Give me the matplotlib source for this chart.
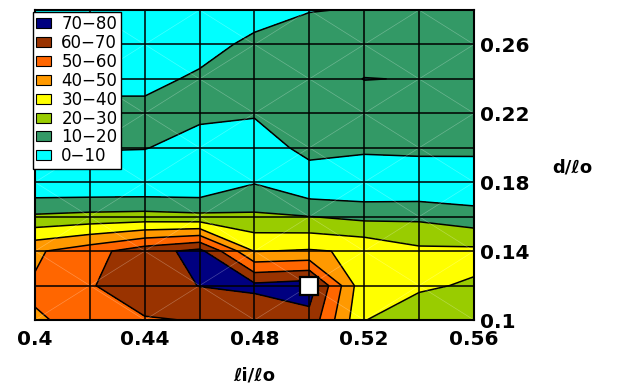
import matplotlib
matplotlib.use("Agg")
import matplotlib.pyplot as plt
from matplotlib.patches import Patch

# grid coordinates
x_vals = [0.40, 0.42, 0.44, 0.46, 0.48, 0.50, 0.52, 0.54, 0.56]
y_vals = [0.10, 0.12, 0.14, 0.16, 0.18, 0.20, 0.22, 0.24, 0.26, 0.28]

# surface values, one list per y row (bottom to top)
z_010 = [49.4, 51.6, 59.5, 60.3, 62.0, 66.8, 30.2, 26.0, 25.0]
z_012 = [51.0, 59.5, 64.0, 70.3, 72.4, 75.0, 32.3, 31.0, 29.2]
z_014 = [48.5, 56.0, 66.0, 73.0, 39.6, 41.0, 38.5, 32.1, 32.3]
z_016 = [21.5, 23.0, 23.7, 22.4, 21.6, 20.2, 17.4, 17.9, 13.9]
z_018 = [0.5, 0.0, 0.0, 0.0, 9.4, 0.4, 0.2, 0.0, 1.4]
z_020 = [10.5, 11.0, 10.5, 5.0, 0.4, 15.4, 12.3, 13.3, 12.9]
z_022 = [12.0, 13.0, 13.0, 12.4, 11.6, 15.0, 15.0, 15.0, 15.0]
z_024 = [6.0, 7.0, 7.0, 11.7, 14.0, 15.0, 9.8, 10.3, 14.0]
z_026 = [4.0, 4.0, 5.0, 6.0, 12.5, 19.0, 15.0, 15.0, 15.0]
z_028 = [4.0, 4.0, 4.0, 4.0, 5.4, 9.3, 11.0, 14.0, 15.0]
z_rows = [z_010, z_012, z_014, z_016, z_018, z_020, z_022, z_024, z_026, z_028]

levels = [0, 10, 20, 30, 40, 50, 60, 70, 80]
band_labels = ["0\u221210", "10\u221220", "20\u221230", "30\u221240",
               "40\u221250", "50\u221260", "60\u221270", "70\u221280"]
band_colors = ["#00FFFF", "#339966", "#99CC00", "#FFFF00",
               "#FF9900", "#FF6600", "#993300", "#000080"]

x_ticks = [0.40, 0.44, 0.48, 0.52, 0.56]
x_tick_labels = ["0.4", "0.44", "0.48", "0.52", "0.56"]
y_ticks = [0.10, 0.14, 0.18, 0.22, 0.26]
y_tick_labels = ["0.1", "0.14", "0.18", "0.22", "0.26"]

best_x = 0.50
best_y = 0.12

fig = plt.figure(figsize=(6.2, 3.85), dpi=100)
fig.patch.set_facecolor("white")
ax = fig.add_axes([35 / 620, 65 / 385, 439 / 620, 310 / 385])

ax.contourf(x_vals, y_vals, z_rows, levels=levels, colors=band_colors, zorder=1)
ax.contour(x_vals, y_vals, z_rows, levels=levels[1:-1], colors="black",
           linewidths=1.1, zorder=2)

# faint surface mesh diagonals
for i in range(len(x_vals) - 1):
    for j in range(len(y_vals) - 1):
        if (i + j) % 2:
            xs, ys = [x_vals[i], x_vals[i + 1]], [y_vals[j + 1], y_vals[j]]
        else:
            xs, ys = [x_vals[i], x_vals[i + 1]], [y_vals[j], y_vals[j + 1]]
        ax.plot(xs, ys, color="white", lw=0.5, alpha=0.28, zorder=2.2)

ax.set_xlim(x_vals[0], x_vals[-1])
ax.set_ylim(y_vals[0], y_vals[-1])
ax.set_xticks(x_ticks)
ax.set_xticklabels(x_tick_labels)
ax.set_xticks(x_vals, minor=True)
ax.set_yticks(y_ticks)
ax.set_yticklabels(y_tick_labels)
ax.set_yticks(y_vals, minor=True)
ax.yaxis.tick_right()
ax.tick_params(which="both", length=0)
ax.tick_params(axis="x", pad=7.5)
ax.tick_params(axis="y", pad=4)
for lab in ax.get_xticklabels() + ax.get_yticklabels():
    lab.set_fontfamily("DejaVu Sans")
    lab.set_fontweight("bold")
    lab.set_fontsize(14.5)
ax.set_axisbelow(False)
ax.grid(which="both", color="black", lw=1.1)
for sp in ax.spines.values():
    sp.set_linewidth(1.5)
    sp.set_color("black")
    sp.set_zorder(5)

ax.plot([best_x], [best_y], marker="s", ms=13, mfc="white", mec="black",
        mew=1.6, zorder=6, clip_on=False)

handles = [Patch(facecolor=c, edgecolor="black", linewidth=0.8, label=l)
           for c, l in zip(band_colors[::-1], band_labels[::-1])]
leg = ax.legend(handles=handles, loc="upper left",
                bbox_to_anchor=(33 / 620, 1 - 12 / 385),
                bbox_transform=fig.transFigure, borderaxespad=0,
                prop={"family": "DejaVu Sans", "size": 12},
                handlelength=0.9, handleheight=0.55, handletextpad=0.6,
                labelspacing=0.05, borderpad=0.2, fancybox=False,
                framealpha=1, edgecolor="black")
leg.get_frame().set_linewidth(1.0)
leg.set_zorder(10)

fig.text(254 / 620, 1 - 376 / 385, "\u2113i/\u2113o", ha="center", va="center",
         fontsize=13, fontweight="bold", family="DejaVu Sans")
fig.text(552 / 620, 1 - 168 / 385, "d/\u2113o", ha="left", va="center",
         fontsize=13, fontweight="bold", family="DejaVu Sans")

fig.savefig("out.png", dpi=100)
